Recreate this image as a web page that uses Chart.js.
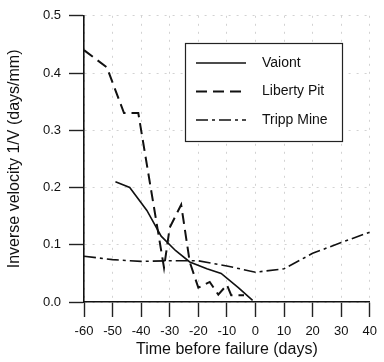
<!DOCTYPE html>
<html>
<head>
<meta charset="utf-8">
<script src="https://cdn.jsdelivr.net/npm/chart.js@4"></script>
<style>
  html, body { margin: 0; padding: 0; background: #fff; }
  #c { display: block; }
</style>
</head>
<body>
<canvas id="c" width="384" height="362"></canvas>
<script>
// values
const vaiontDays = [-49, -44, -38, -33, -28, -23, -17, -12, -6, -1];
const vaiontInv = [0.21, 0.2, 0.16, 0.115, 0.09, 0.07, 0.058, 0.05, 0.025, 0.003];

const libertyDays = [-60, -52, -46, -41, -32, -30, -26, -23, -20, -16, -13, -10, -8.5, -4];
const libertyInv = [0.44, 0.41, 0.33, 0.33, 0.06, 0.13, 0.17, 0.07, 0.025, 0.035, 0.013, 0.03, 0.012, 0.012];

const trippDays = [-60, -50, -40, -30, -20, -10, 0, 10, 20, 30, 40];
const trippInv = [0.08, 0.074, 0.071, 0.072, 0.072, 0.063, 0.052, 0.058, 0.085, 0.104, 0.122];

const xTicks = [-60, -50, -40, -30, -20, -10, 0, 10, 20, 30, 40];
const yTicks = [0.0, 0.1, 0.2, 0.3, 0.4, 0.5];

const pts = (xs, ys) => xs.map((x, i) => ({ x: x, y: ys[i] }));

const FONT = '"Liberation Sans", Arial, sans-serif';

// legend drawn as a boxed key inside the plot, like the original
const boxLegend = {
  id: 'boxLegend',
  afterDraw(chart) {
    const ctx = chart.ctx;
    ctx.save();
    ctx.fillStyle = '#fff';
    ctx.fillRect(185, 43, 157, 98);
    ctx.strokeStyle = '#222';
    ctx.lineWidth = 1.2;
    ctx.strokeRect(185.5, 43.5, 157, 98);
    chart.data.datasets.forEach((ds, i) => {
      const y = 63 + i * 28.5;
      ctx.strokeStyle = ds.borderColor;
      ctx.lineWidth = ds.borderWidth;
      ctx.setLineDash(ds.borderDash || []);
      ctx.beginPath();
      ctx.moveTo(196, y);
      ctx.lineTo(246, y);
      ctx.stroke();
      ctx.setLineDash([]);
      ctx.fillStyle = '#111';
      ctx.font = '14px ' + FONT;
      ctx.textBaseline = 'middle';
      ctx.fillText(ds.label, 262, y);
    });
    ctx.restore();
  }
};

new Chart(document.getElementById('c'), {
  type: 'line',
  data: {
    datasets: [
      {
        label: 'Vaiont',
        data: pts(vaiontDays, vaiontInv),
        borderColor: '#111',
        borderWidth: 1.6,
        pointRadius: 0
      },
      {
        label: 'Liberty Pit',
        data: pts(libertyDays, libertyInv),
        borderColor: '#111',
        borderWidth: 2,
        borderDash: [11, 6],
        pointRadius: 0
      },
      {
        label: 'Tripp Mine',
        data: pts(trippDays, trippInv),
        borderColor: '#111',
        borderWidth: 1.6,
        borderDash: [12, 4, 3, 4],
        pointRadius: 0
      }
    ]
  },
  options: {
    responsive: false,
    animation: false,
    devicePixelRatio: 1,
    layout: { padding: { top: 13, right: 10, left: 0, bottom: 0 } },
    plugins: { legend: { display: false }, tooltip: { enabled: false } },
    scales: {
      x: {
        type: 'linear',
        min: -60,
        max: 40,
        afterFit: (s) => { s.height = 60; },
        afterBuildTicks: (s) => { s.ticks = xTicks.map(v => ({ value: v })); },
        ticks: {
          color: '#111',
          font: { family: FONT, size: 13 },
          padding: 7,
          maxRotation: 0
        },
        grid: {
          color: '#d2d2d2',
          lineWidth: 1,
          tickColor: '#222',
          tickLength: 15,
          tickWidth: 1.4
        },
        border: { color: '#111', width: 1.6, dash: [2, 6] },
        title: {
          display: true,
          text: 'Time before failure (days)',
          color: '#111',
          font: { family: FONT, size: 16 },
          padding: { top: 0, bottom: 3 }
        }
      },
      y: {
        min: 0,
        max: 0.5,
        afterFit: (s) => { s.width = 84; },
        afterBuildTicks: (s) => { s.ticks = yTicks.map(v => ({ value: v })); },
        ticks: {
          color: '#111',
          font: { family: FONT, size: 13 },
          padding: 8,
          callback: (v) => v.toFixed(1)
        },
        grid: {
          color: '#d2d2d2',
          lineWidth: 1,
          tickColor: '#222',
          tickLength: 15,
          tickWidth: 1.4
        },
        border: { color: '#111', width: 1.6, dash: [2, 6] },
        title: {
          display: true,
          text: 'Inverse velocity 1/V (days/mm)',
          color: '#111',
          font: { family: FONT, size: 16 },
          padding: { top: 5, bottom: 0 }
        }
      }
    }
  },
  plugins: [boxLegend]
});
</script>
</body>
</html>
